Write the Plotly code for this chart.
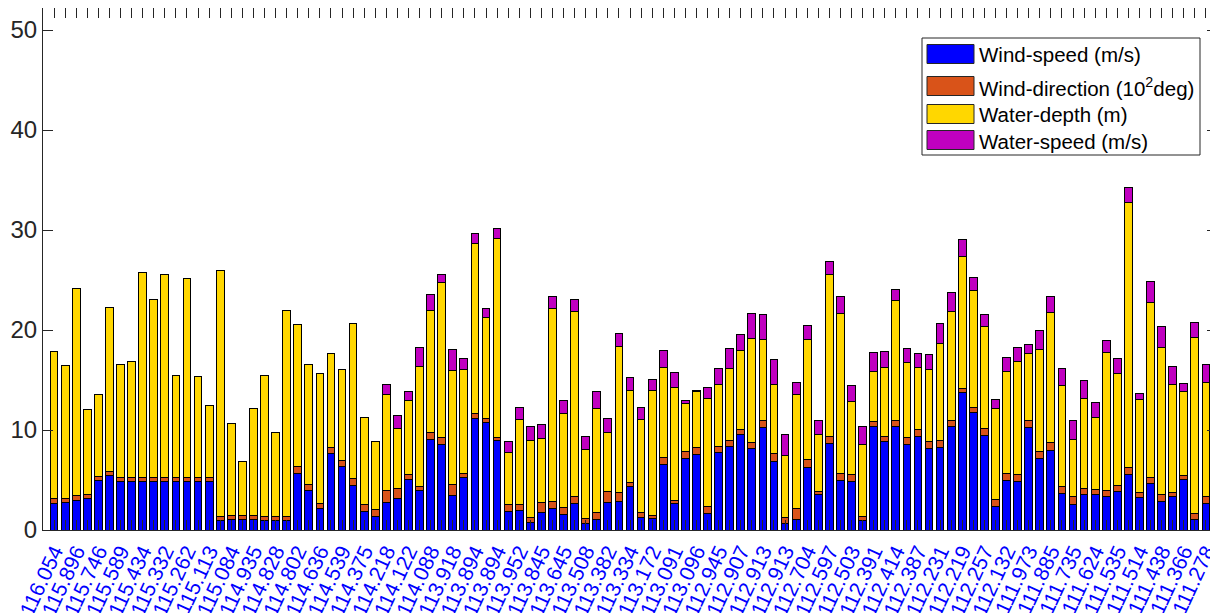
import plotly.graph_objects as go

lon_labels = ["116.054", "115.896", "115.746", "115.589", "115.434", "115.332", "115.262", "115.113",
              "115.084", "114.935", "114.828", "114.802", "114.636", "114.539", "114.375", "114.218",
              "114.122", "114.088", "113.918", "113.894", "113.894", "113.952", "113.845", "113.645",
              "113.508", "113.382", "113.334", "113.172", "113.091", "113.096", "112.945", "112.907",
              "112.913", "112.913", "112.704", "112.597", "112.503", "112.391", "112.414", "112.387",
              "112.231", "112.219", "112.257", "112.132", "111.973", "111.885", "111.735", "111.624",
              "111.535", "111.514", "111.438", "111.366", "111.278"]

wind_speed = [2.7, 2.8, 3.0, 3.2, 5.0, 5.5, 4.9, 4.9, 4.9, 4.9, 4.9, 4.9, 4.9, 4.9, 4.9,
              1.0, 1.07, 1.07, 1.07, 0.93, 1.0, 1.0, 5.7, 4.0, 2.2, 7.67, 6.4, 4.5, 1.9, 1.4,
              2.8, 3.2, 5.1, 4.0, 9.1, 8.53, 3.5, 5.27, 11.2, 10.77, 8.93, 1.83, 1.97, 0.73, 1.8,
              2.2, 1.6, 2.7, 0.67, 1.1, 2.8, 2.87, 4.4, 1.23, 1.13, 6.6, 2.7, 7.2, 7.6, 1.7,
              7.77, 8.37, 9.6, 8.2, 10.3, 6.9, 0.63, 1.1, 6.27, 3.53, 8.67, 4.93, 4.83, 0.93, 10.33,
              8.87, 10.37, 8.6, 9.4, 8.2, 8.3, 10.33, 13.73, 11.8, 9.43, 2.37, 4.97, 4.83, 10.27, 7.2,
              7.93, 3.63, 2.53, 3.53, 3.53, 3.4, 3.87, 5.53, 3.23, 4.7, 2.9, 3.37, 5.03, 1.1, 2.67]

wind_dir = [0.43, 0.4, 0.47, 0.4, 0.37, 0.33, 0.33, 0.33, 0.33, 0.33, 0.33, 0.33, 0.33, 0.33, 0.33,
            0.4, 0.4, 0.4, 0.43, 0.43, 0.4, 0.4, 0.67, 0.6, 0.5, 0.6, 0.6, 0.7, 0.67, 0.63,
            1.13, 0.93, 0.43, 0.33, 0.67, 0.73, 1.1, 0.4, 0.43, 0.37, 0.37, 0.77, 0.63, 0.57, 1.0,
            0.67, 0.67, 0.7, 0.53, 0.7, 1.1, 0.93, 0.37, 0.57, 0.33, 0.67, 0.3, 0.63, 0.67, 0.7,
            0.6, 0.63, 0.5, 0.6, 0.63, 0.77, 0.63, 1.1, 0.8, 0.33, 0.7, 0.77, 0.77, 0.43, 0.57,
            0.47, 0.57, 0.63, 0.7, 0.7, 0.7, 0.63, 0.47, 0.5, 0.77, 0.7, 0.73, 0.77, 0.73, 0.67,
            0.8, 0.77, 0.83, 0.67, 0.57, 0.6, 0.6, 0.7, 0.57, 0.6, 0.7, 0.37, 0.47, 0.6, 0.7]

water_depth = [14.77, 13.27, 20.7, 8.47, 8.2, 16.4, 11.33, 11.6, 20.5, 17.87, 20.37, 10.23, 19.97, 10.1, 7.27,
               24.57, 9.2, 5.4, 10.63, 14.1, 8.33, 20.53, 14.2, 11.93, 12.97, 9.4, 9.1, 15.47, 8.7, 6.8,
               9.67, 6.07, 7.47, 12.07, 12.23, 15.5, 11.4, 10.4, 17.07, 10.1, 19.9, 5.17, 8.5, 7.67, 6.4,
               19.3, 9.43, 18.47, 6.87, 10.33, 5.87, 14.6, 9.23, 9.3, 12.47, 8.97, 11.27, 4.87, 5.6, 10.73,
               6.2, 7.2, 7.83, 10.37, 8.1, 6.87, 6.17, 11.4, 12.03, 5.67, 16.23, 16.0, 7.3, 7.17, 5.0,
               6.93, 11.97, 7.57, 6.2, 7.17, 9.7, 10.93, 13.2, 11.7, 10.2, 9.07, 10.2, 11.23, 6.7, 10.23,
               13.07, 10.03, 5.7, 9.0, 7.13, 13.77, 11.2, 26.57, 9.3, 17.5, 14.7, 10.83, 8.33, 17.6, 11.4]

water_speed = [0] * 30 + [0.93, 1.3, 0.87, 1.83, 1.53, 0.8, 2.1, 1.07, 0.97, 0.87, 0.97, 1.07, 1.2, 1.4, 1.4,
               1.23, 1.23, 1.23, 1.27, 1.7, 1.37, 1.27, 1.27, 1.13, 1.17, 1.7, 1.53, 0.3, 0.1, 1.17,
               1.6, 1.97, 1.63, 2.5, 2.5, 2.53, 2.13, 1.17, 1.4, 1.4, 1.23, 1.63, 1.6, 1.87, 1.83,
               1.63, 1.17, 1.4, 1.4, 1.53, 2.0, 1.9, 1.63, 1.3, 1.2, 0.9, 1.4, 1.47, 0.83, 1.9,
               1.57, 1.7, 1.93, 1.73, 1.5, 1.23, 1.53, 1.43, 0.57, 2.03, 2.1, 1.83, 0.87, 1.43, 1.83]

series_names = ["Wind-speed (m/s)", "Wind-direction (10<sup>2</sup>deg)", "Water-depth (m)", "Water-speed (m/s)"]
series_colors = ["#0000FF", "#D95319", "#FFD700", "#C000C0"]

# the page body has an 8px margin, so the figure is drawn from window (8, 8)
OFF = 8
W, H = 1218 - OFF, 613 - OFF
ML, MR, MT, MB = 43 - OFF, 1, 8 - OFF, 83
PW, PH = W - ML - MR, H - MT - MB


def px(xw):
    return (xw - OFF - ML) / PW


def py(yw):
    return (H - MB - (yw - OFF)) / PH


n = len(wind_speed)
x = list(range(1, n + 1))
ticktext = [lon_labels[i // 2] if i % 2 == 0 else " " for i in range(n)]

fig = go.Figure()
for name, vals, col in zip(series_names, [wind_speed, wind_dir, water_depth, water_speed], series_colors):
    fig.add_trace(go.Bar(x=x, y=vals, name=name, width=0.7, showlegend=False,
                         marker=dict(color=col, line=dict(color="black", width=1))))

# legend drawn as box + colour patches + labels (window-pixel placement)
shapes = [dict(type="rect", xref="paper", yref="paper", x0=px(922), x1=px(1200), y0=py(155), y1=py(38),
               line=dict(color="#262626", width=1), fillcolor="white", layer="above")]
annotations = []
row_centers = [54, 86, 114, 140]
for name, col, yc in zip(series_names, series_colors, row_centers):
    shapes.append(dict(type="rect", xref="paper", yref="paper", x0=px(927), x1=px(974),
                       y0=py(yc + 9.5), y1=py(yc - 9.5), line=dict(color="#262626", width=1),
                       fillcolor=col, layer="above"))
    annotations.append(dict(xref="paper", yref="paper", x=px(977), y=py(yc + 1), text=name,
                            showarrow=False, xanchor="left", yanchor="middle",
                            font=dict(size=20.5, color="black")))

axis_col = "#262626"
fig.update_layout(
    barmode="stack",
    width=W, height=H,
    margin=dict(l=ML, r=MR, t=MT, b=MB, autoexpand=False),
    paper_bgcolor="white", plot_bgcolor="white",
    font=dict(family="Liberation Sans, Arial, sans-serif", color="#262626"),
    showlegend=False,
    shapes=shapes, annotations=annotations,
)
fig.update_xaxes(range=[0, n + 1], tickmode="array", tickvals=x, ticktext=ticktext,
                 tickangle=-65, tickfont=dict(size=21, color="#0000FF"), automargin=False,
                 ticklabeloverflow="allow",
                 ticks="inside", ticklen=10, tickcolor=axis_col, tickwidth=1,
                 showline=True, linecolor=axis_col, linewidth=1, mirror="ticks",
                 showgrid=False, zeroline=False)
fig.update_yaxes(range=[0, 52.2], tickmode="array", tickvals=[0, 10, 20, 30, 40, 50],
                 tickfont=dict(size=24, color="#262626"), automargin=False,
                 ticks="inside", ticklen=10, tickcolor=axis_col, tickwidth=1,
                 showline=True, linecolor=axis_col, linewidth=1, mirror="ticks",
                 showgrid=False, zeroline=False)

fig.write_html("out.html")
